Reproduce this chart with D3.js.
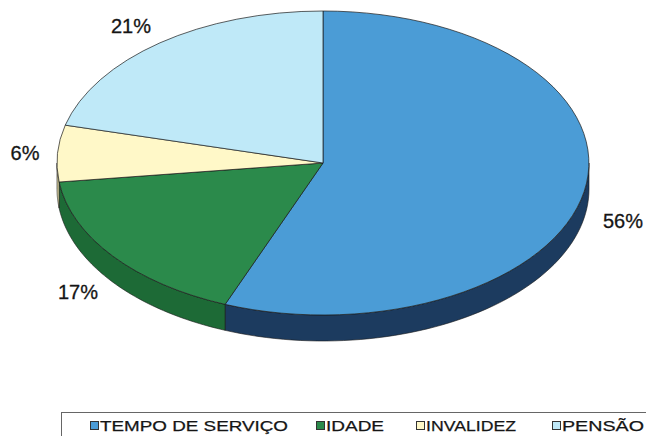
<!DOCTYPE html>
<html>
<head>
<meta charset="utf-8">
<script src="https://cdn.jsdelivr.net/npm/d3@7"></script>
<style>
  body { margin: 0; background: #fff; }
  svg { display: block; }
  text { font-family: "Liberation Sans", Arial, sans-serif; fill: #151515; }
</style>
</head>
<body>
<div class="pieChart"></div>
<script>
// data
const categories = ["TEMPO DE SERVIÇO", "IDADE", "INVALIDEZ", "PENSÃO"];
const values = [56, 17, 6, 21];
const labels = ["56%", "17%", "6%", "21%"];

// colours for top face and side wall
const topColors = ["#4b9cd6", "#2b8a4b", "#fff8c8", "#bfe9f8"];
const sideColors = ["#1c3b5f", "#1d6a36", "#d8d0a0", "#8fb9c8"];

// layout
const width = 646, height = 436;
const cx = 323, cy = 163;
const rx = 266, ry = 152;
const depth = 26;

const svg = d3.select('.pieChart')
  .append('svg')
  .attr('width', width)
  .attr('height', height);

const pie = d3.pie().sort(null).value(d => d);
const arcs = pie(values);

// point on the ellipse rim for a pie angle (0 = 12 o'clock, clockwise)
const rim = (a, dy) => [cx + rx * Math.sin(a), cy - ry * Math.cos(a) + dy];

// side walls, only the front half (angles between pi/2 and 3pi/2) is seen
const sides = svg.append('g');
arcs.forEach((d, i) => {
  const a0 = Math.max(d.startAngle, Math.PI / 2);
  const a1 = Math.min(d.endAngle, Math.PI * 3 / 2);
  if (a1 <= a0) return;
  const steps = d3.range(0, 61).map(k => a0 + (a1 - a0) * k / 60);
  const pts = steps.map(a => rim(a, 0))
    .concat(steps.slice().reverse().map(a => rim(a, depth)));
  sides.append('path')
    .attr('d', d3.line()(pts) + 'Z')
    .attr('fill', sideColors[i])
    .attr('stroke', '#1a1a1a')
    .attr('stroke-width', 0.6);
});

// top face: unit arc scaled to the ellipse
const arc = d3.arc().innerRadius(0).outerRadius(1);
svg.append('g')
  .attr('transform', `translate(${cx},${cy}) scale(${rx},${ry})`)
  .selectAll('path')
  .data(arcs)
  .enter()
  .append('path')
  .attr('d', arc)
  .attr('fill', (d, i) => topColors[i])
  .attr('stroke', '#1a1a1a')
  .attr('stroke-width', 0.7)
  .attr('vector-effect', 'non-scaling-stroke');

// percentage labels outside the pie
const labelPos = [[623, 228], [78, 299], [25, 160], [131, 33]];
svg.append('g')
  .selectAll('text')
  .data(labels)
  .enter()
  .append('text')
  .attr('x', (d, i) => labelPos[i][0])
  .attr('y', (d, i) => labelPos[i][1])
  .attr('text-anchor', 'middle')
  .style('font-size', '20px')
  .style('stroke', '#151515')
  .style('stroke-width', 0.3)
  .text(d => d);

// legend box (runs off the bottom and right of the picture)
const legend = svg.append('g');
legend.append('rect')
  .attr('x', 61.5).attr('y', 412.5)
  .attr('width', 620).attr('height', 40)
  .attr('fill', '#fff')
  .attr('stroke', '#666')
  .attr('stroke-width', 1);

const legX = [90, 316, 416, 552];
const legW = [188, 58, 90, 82];
categories.forEach((c, i) => {
  legend.append('rect')
    .attr('x', legX[i] + 0.5).attr('y', 421.5)
    .attr('width', 8).attr('height', 8)
    .attr('fill', topColors[i])
    .attr('stroke', '#333')
    .attr('stroke-width', 1);
  legend.append('text')
    .attr('x', legX[i] + 10)
    .attr('y', 431)
    .attr('textLength', legW[i])
    .attr('lengthAdjust', 'spacingAndGlyphs')
    .style('font-size', '15px')
    .style('stroke', '#151515')
    .style('stroke-width', 0.25)
    .text(c);
});
</script>
</body>
</html>
